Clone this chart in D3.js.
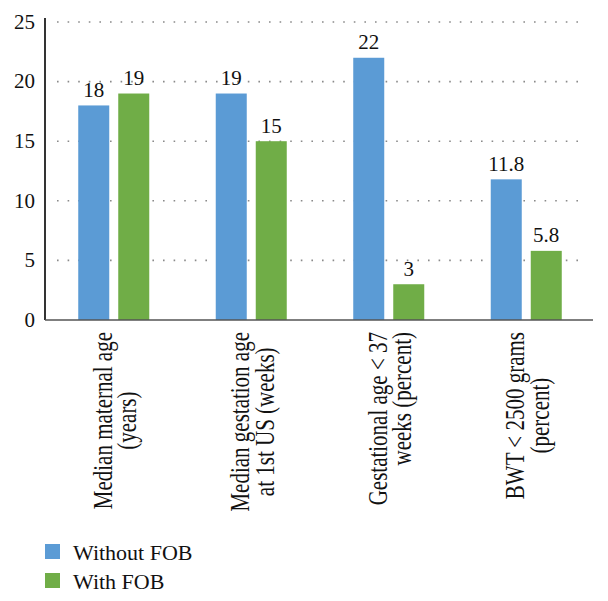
<!DOCTYPE html>
<html>
<head>
<meta charset="utf-8">
<script src="https://cdn.jsdelivr.net/npm/d3@7"></script>
<style>
  html, body { margin: 0; padding: 0; background: #fff; }
  svg { display: block; }
  text { font-family: "Liberation Serif", "Times New Roman", serif; fill: #111; }
</style>
</head>
<body>
<svg id="chart" width="608" height="601"></svg>
<script>
// ---- data ----
const categories = [
  ["Median maternal age", "(years)"],
  ["Median gestation age", "at 1st US (weeks)"],
  ["Gestational age < 37", "weeks (percent)"],
  ["BWT < 2500 grams", "(percent)"]
];
const seriesNames = ["Without FOB", "With FOB"];
const withoutFOB = [18, 19, 22, 11.8];
const withFOB = [19, 15, 3, 5.8];
const valueLabels = [["18", "19", "22", "11.8"], ["19", "15", "3", "5.8"]];
const yTicks = [0, 5, 10, 15, 20, 25];
// second line alignment per category: "middle" = centred on first line, "top" = aligned to top
const secondLineAlign = ["middle", "middle", "top", "middle"];

const colors = ["#5B9BD5", "#70AD47"];
const series = [withoutFOB, withFOB];

const svg = d3.select("#chart");
const mLeft = 45, mRight = 595, mTop = 22, mBottom = 320;

const y = d3.scaleLinear().domain([0, 25]).range([mBottom, mTop]);
const x0 = d3.scaleBand().domain(d3.range(categories.length)).range([mLeft, mRight])
  .paddingInner(0.4836).paddingOuter(0.2418);
const x1 = d3.scaleBand().domain(d3.range(seriesNames.length)).range([0, x0.bandwidth()])
  .paddingInner(0.225);

// gridlines
svg.append("g").selectAll("line").data(yTicks.filter(d => d > 0)).join("line")
  .attr("x1", mLeft + 12).attr("x2", 584)
  .attr("y1", d => y(d)).attr("y2", d => y(d))
  .attr("stroke", "#8a8a8a").attr("stroke-width", 1.6)
  .attr("stroke-dasharray", "1.6,9")
  .attr("stroke-linecap", "butt");

// bars
const groups = svg.append("g").selectAll("g").data(categories).join("g")
  .attr("transform", (d, i) => `translate(${x0(i)},0)`);
groups.selectAll("rect").data((d, i) => series.map((s, j) => ({ j, v: s[i], i }))).join("rect")
  .attr("x", d => x1(d.j))
  .attr("width", x1.bandwidth())
  .attr("y", d => y(d.v))
  .attr("height", d => y(0) - y(d.v))
  .attr("fill", d => colors[d.j]);
groups.selectAll("text.val").data((d, i) => series.map((s, j) => ({ j, v: s[i], i }))).join("text")
  .attr("class", "val")
  .attr("x", d => x1(d.j) + x1.bandwidth() / 2)
  .attr("y", d => y(d.v) - 8.5)
  .attr("text-anchor", "middle")
  .attr("font-size", 21)
  .text(d => valueLabels[d.j][d.i]);

// y axis
const yAxis = d3.axisLeft(y).tickValues(yTicks).tickSize(0).tickPadding(10);
const ya = svg.append("g").attr("transform", `translate(${mLeft},0)`).call(yAxis);
ya.select(".domain").attr("stroke", "#000").attr("stroke-width", 1.6).attr("d", `M0,${mTop - 4}V${mBottom}`);
ya.selectAll(".tick text").attr("font-size", 21).attr("font-family", "Liberation Serif").attr("fill", "#111").attr("dy", "0.3em");

// x axis
const xa = svg.append("g").attr("transform", `translate(0,${mBottom})`)
  .call(d3.axisBottom(x0).tickSize(0).tickFormat(""));
xa.select(".domain").attr("stroke", "#555").attr("stroke-width", 1.6).attr("d", `M${mLeft},0H593`);

// category labels (rotated)
const labTop = 332;
const labStretch = "scale(1,1.25)";
categories.forEach((lines, i) => {
  const cx = x0(i) + x0.bandwidth() / 2;
  const g = svg.append("g");
  const t1 = g.append("text")
    .attr("transform", `translate(${cx - 2},${labTop}) rotate(-90) ${labStretch}`)
    .attr("text-anchor", "end").attr("font-size", 21).text(lines[0]);
  const len1 = t1.node().getComputedTextLength();
  const t2 = g.append("text").attr("font-size", 21).text(lines[1]);
  if (secondLineAlign[i] === "top") {
    t2.attr("transform", `translate(${cx + 22.5},${labTop}) rotate(-90) ${labStretch}`).attr("text-anchor", "end");
  } else {
    t2.attr("transform", `translate(${cx + 22.5},${labTop + len1 / 2}) rotate(-90) ${labStretch}`).attr("text-anchor", "middle");
  }
});

// legend
const lg = svg.append("g").selectAll("g").data(seriesNames).join("g")
  .attr("transform", (d, i) => `translate(45,${544 + i * 29})`);
lg.append("rect").attr("width", 15).attr("height", 15).attr("fill", (d, i) => colors[i]);
lg.append("text").attr("x", 28).attr("y", 15.5).attr("font-size", 22).text(d => d);
</script>
</body>
</html>
